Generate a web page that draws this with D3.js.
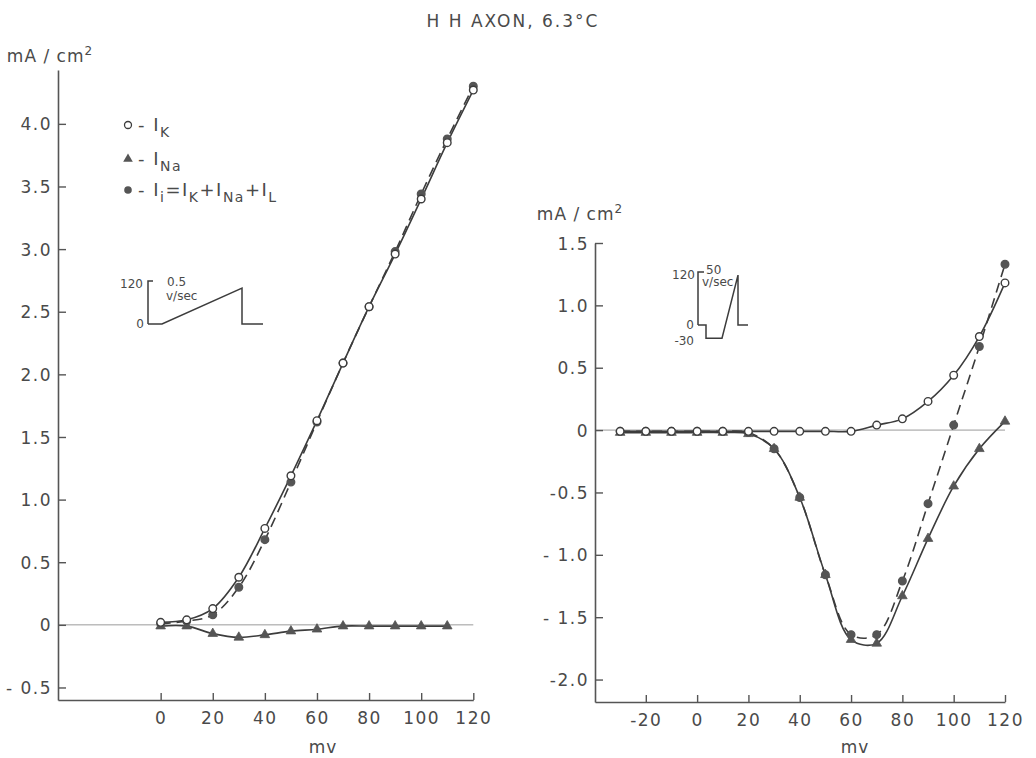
<!DOCTYPE html>
<html><head><meta charset="utf-8">
<script src="https://cdn.jsdelivr.net/npm/d3@7/dist/d3.min.js"></script>
<style>
body{margin:0;background:#fff}
svg{display:block}
text{font-family:"DejaVu Sans",sans-serif;fill:#4a4a4a}
</style></head><body>
<svg id="c" width="1036" height="758"></svg>
<script>
// ---------- DATA ----------
const leftV = [0,10,20,30,40,50,60,70,80,90,100,110,120];
const leftIK = [0.02,0.04,0.13,0.38,0.77,1.19,1.63,2.09,2.54,2.96,3.40,3.85,4.27];
const leftIi = [0.01,0.03,0.08,0.30,0.68,1.14,1.62,2.09,2.54,2.98,3.44,3.88,4.30];
const leftNaV = [0,10,20,30,40,50,60,70,80,90,100,110];
const leftINa = [-0.01,-0.01,-0.07,-0.10,-0.08,-0.05,-0.035,-0.01,-0.01,-0.01,-0.01,-0.01];

const rightV = [-30,-20,-10,0,10,20,30,40,50,60,70,80,90,100,110,120];
const rightIK = [-0.01,-0.01,-0.01,-0.01,-0.01,-0.01,-0.01,-0.01,-0.01,-0.01,0.04,0.09,0.23,0.44,0.75,1.18];
const rightINa = [-0.02,-0.02,-0.02,-0.02,-0.02,-0.03,-0.15,-0.54,-1.16,-1.68,-1.71,-1.33,-0.87,-0.45,-0.15,0.07];
const rightIi = [-0.01,-0.01,-0.01,-0.01,-0.01,-0.02,-0.15,-0.54,-1.16,-1.64,-1.64,-1.21,-0.59,0.04,0.67,1.33];

const leftXTicks = [0,20,40,60,80,100,120];
const leftXLabels = ["0","20","40","60","80","100","120"];
const leftYTicks = [-0.5,0,0.5,1.0,1.5,2.0,2.5,3.0,3.5,4.0];
const leftYLabels = ["- 0.5","0","0.5","1.0","1.5","2.0","2.5","3.0","3.5","4.0"];
const rightXTicks = [-20,0,20,40,60,80,100,120];
const rightXLabels = ["-20","0","20","40","60","80","100","120"];
const rightYTicks = [-2.0,-1.5,-1.0,-0.5,0,0.5,1.0,1.5];
const rightYLabels = ["-2.0","- 1.5","- 1.0","-0.5","0","0.5","1.0","1.5"];

// inset waveforms (time units, mV)
const insetLeftBracket = [[0.5,120],[0,120],[0,0]];
const insetLeftWave = [[0,0],[1.4,0],[9.4,100],[9.4,0],[11.5,0]];
const insetRightBracket = [[0.6,120],[0,120],[0,0]];
const insetRightWave = [[0,0],[0.8,0],[0.8,-30],[2.4,-30],[4.0,113],[4.0,0],[5.0,0]];

// ---------- DRAW ----------
const svg = d3.select("#c");
const ink = "#3c3c3c";

svg.append("text").attr("x",513).attr("y",27).attr("text-anchor","middle")
  .style("font-size","17px").style("letter-spacing","2px").text("H H AXON, 6.3°C");

function panel(opt){
  const g = svg.append("g");
  const x = d3.scaleLinear().domain(opt.xd).range(opt.xr);
  const y = d3.scaleLinear().domain(opt.yd).range(opt.yr);
  g.append("line").attr("x1",opt.xr[0]).attr("x2",x(120)).attr("y1",y(0)).attr("y2",y(0))
    .attr("stroke","#9a9a9a").attr("stroke-width",1);
  const ax = g.append("g").attr("transform",`translate(0,${opt.yr[0]})`)
    .call(d3.axisBottom(x).tickValues(opt.xt).tickFormat((d,i)=>opt.xl[i]).tickSize(-7).tickSizeOuter(0).tickPadding(12));
  const ay = g.append("g").attr("transform",`translate(${opt.xr[0]},0)`)
    .call(d3.axisLeft(y).tickValues(opt.yt).tickFormat((d,i)=>opt.yl[i]).tickSize(-8).tickSizeOuter(0).tickPadding(6));
  [ax,ay].forEach(a=>{
    a.select(".domain").attr("stroke","#555").attr("stroke-width",1.6);
    a.selectAll(".tick line").attr("stroke","#555").attr("stroke-width",1.4);
    a.selectAll(".tick text").style("font-size","17px").style("letter-spacing","1.5px")
      .style("font-family","DejaVu Sans").attr("fill","#4a4a4a");
  });
  ay.selectAll(".tick text").attr("dy","0.36em");
  g.append("text").attr("x",opt.mvx).attr("y",753).attr("text-anchor","middle")
    .style("font-size","17px").style("letter-spacing","1px").text("mv");
  const u = g.append("text").attr("x",opt.ux).attr("y",opt.uy).attr("text-anchor","middle")
    .style("font-size","17px").style("letter-spacing","1px");
  u.append("tspan").text("mA / cm");
  u.append("tspan").attr("dy","-7").style("font-size","12px").text("2");
  return {g,x,y};
}

function series(p, xs, ys, dashed){
  const pts = xs.map((v,i)=>[v,ys[i]]);
  const line = d3.line().x(d=>p.x(d[0])).y(d=>p.y(d[1])).curve(d3.curveCatmullRom.alpha(0.5));
  p.g.append("path").attr("d",line(pts)).attr("fill","none").attr("stroke",ink)
    .attr("stroke-width",1.6).attr("stroke-dasharray",dashed?"10,6":null);
  return pts;
}
function circles(p, pts, filled){
  p.g.selectAll(null).data(pts).enter().append("circle")
    .attr("cx",d=>p.x(d[0])).attr("cy",d=>p.y(d[1])).attr("r",3.8)
    .attr("fill",filled?"#555":"#fff").attr("stroke",filled?"#555":ink).attr("stroke-width",1.4);
}
function triangles(p, pts){
  const sym = d3.symbol().type(d3.symbolTriangle).size(40);
  p.g.selectAll(null).data(pts).enter().append("path")
    .attr("d",sym).attr("transform",d=>`translate(${p.x(d[0])},${p.y(d[1])})`)
    .attr("fill","#555").attr("stroke","#555").attr("stroke-width",0.8);
}

const L = panel({xd:[-39.4,120], xr:[58,473.3], yd:[-0.6,4.43], yr:[700,70],
  xt:leftXTicks, xl:leftXLabels, yt:leftYTicks, yl:leftYLabels, mvx:323, ux:50, uy:62});
const lNa = series(L,leftNaV,leftINa,false);
const lK = series(L,leftV,leftIK,false);
const lI = series(L,leftV,leftIi,true);
triangles(L,lNa); circles(L,lI,true); circles(L,lK,false);

const R = panel({xd:[-39.8,120], xr:[595,1005], yd:[-2.18,1.5], yr:[702,243],
  xt:rightXTicks, xl:rightXLabels, yt:rightYTicks, yl:rightYLabels, mvx:855, ux:580, uy:220});
const rNa = series(R,rightV,rightINa,false);
const rK = series(R,rightV,rightIK,false);
const rI = series(R,rightV,rightIi,true);
triangles(R,rNa); circles(R,rI,true); circles(R,rK,false);

// Legend
const leg = svg.append("g");
const rows = [
  {y:125, sym:"o", parts:[["- I",""],["K","sub"]]},
  {y:159, sym:"t", parts:[["- I",""],["Na","sub"]]},
  {y:190, sym:"f", parts:[["- I",""],["i","sub"],["=I",""],["K","sub"],["+I",""],["Na","sub"],["+I",""],["L","sub"]]}
];
rows.forEach(r=>{
  if(r.sym==="o") leg.append("circle").attr("cx",128).attr("cy",r.y).attr("r",3.5).attr("fill","#fff").attr("stroke",ink).attr("stroke-width",1.3);
  if(r.sym==="f") leg.append("circle").attr("cx",128).attr("cy",r.y).attr("r",3.8).attr("fill","#555");
  if(r.sym==="t") leg.append("path").attr("d",d3.symbol().type(d3.symbolTriangle).size(40)).attr("transform",`translate(128,${r.y})`).attr("fill","#555");
  const t = leg.append("text").attr("x",138).attr("y",r.y+6).style("font-size","18px").style("letter-spacing","1.5px");
  let sub=false;
  r.parts.forEach(p=>{
    const ts = t.append("tspan").text(p[0]);
    if(p[1]==="sub"){ ts.attr("dy",sub?0:6).style("font-size","14px"); sub=true; }
    else { if(sub){ ts.attr("dy",-6); sub=false; } }
  });
});

// Insets
function inset(ox, zeroY, topY, bracket, wave, labels){
  const tx = d3.scaleLinear().domain([0,1]).range([ox,ox+10]);
  const ty = d3.scaleLinear().domain([0,120]).range([zeroY,topY]);
  const ln = d3.line().x(d=>tx(d[0])).y(d=>ty(d[1]));
  svg.append("path").attr("d",ln(bracket)).attr("fill","none").attr("stroke",ink).attr("stroke-width",1.5);
  svg.append("path").attr("d",ln(wave)).attr("fill","none").attr("stroke",ink).attr("stroke-width",1.5);
  labels.forEach(l=>{
    svg.append("text").attr("x",l.x).attr("y",ty(l.v)).attr("dy","0.36em")
      .attr("text-anchor",l.a).style("font-size","12px").text(l.t);
  });
}
inset(148,324,281,insetLeftBracket,insetLeftWave,[
  {t:"120",v:112,x:143,a:"end"},{t:"0",v:0,x:144,a:"end"},
  {t:"0.5",v:118,x:167,a:"start"},{t:"v/sec",v:80,x:166,a:"start"}]);
inset(698,325,272,insetRightBracket,insetRightWave,[
  {t:"120",v:115,x:695,a:"end"},{t:"0",v:0,x:694,a:"end"},{t:"-30",v:-36,x:694,a:"end"},
  {t:"50",v:126,x:706,a:"start"},{t:"v/sec",v:97,x:702,a:"start"}]);
</script>
</body></html>
